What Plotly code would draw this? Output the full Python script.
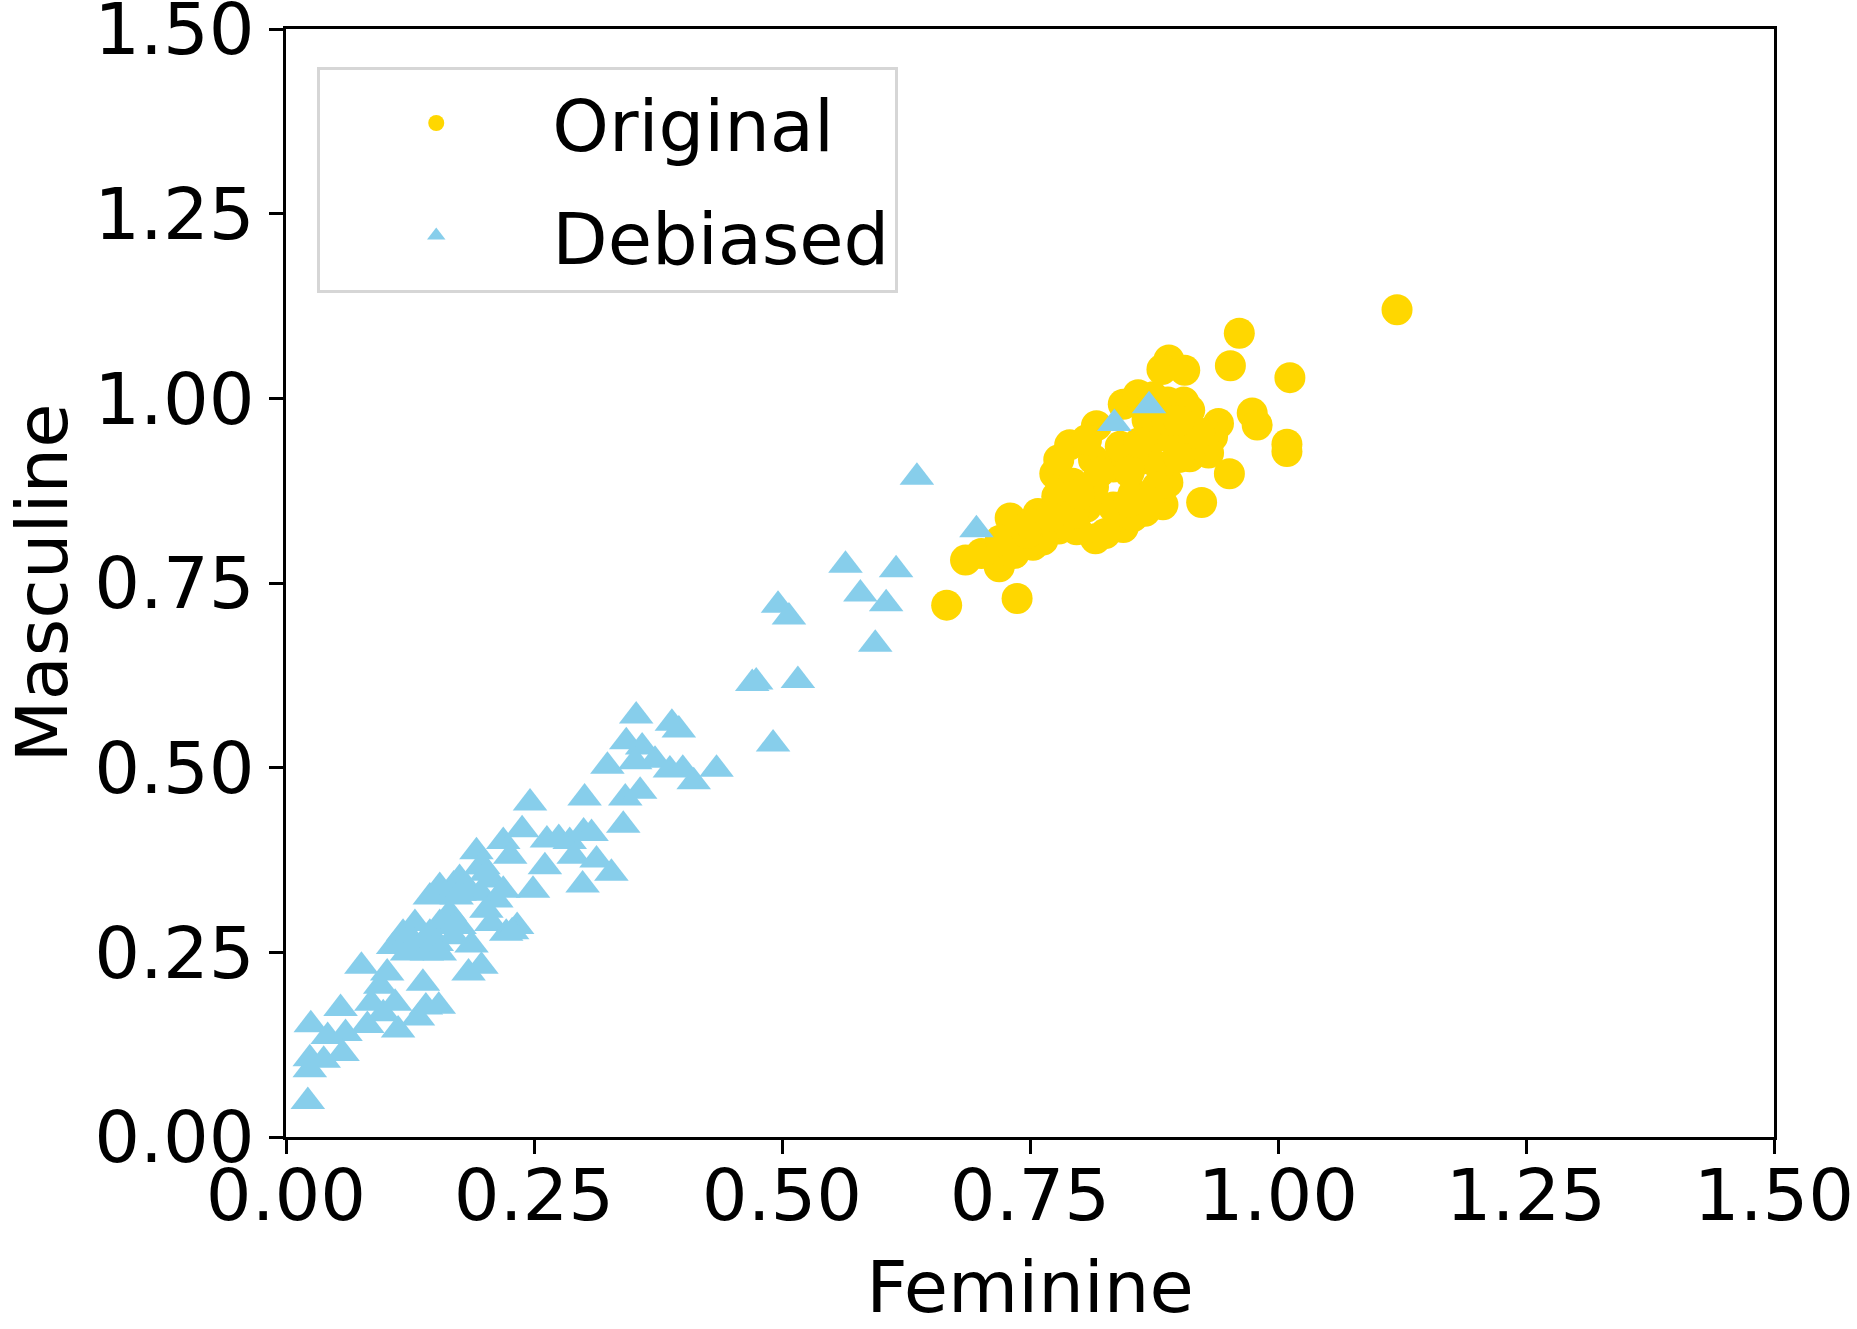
import plotly.graph_objects as go

# Original embeddings (feminine vs masculine score)
orig_x = [1.120, 0.961, 0.890, 0.883, 0.906, 0.952, 1.012, 0.974, 0.979, 1.009, 1.009, 0.940,
          0.934, 0.930, 0.951, 0.923, 0.911, 0.889, 0.884, 0.866, 0.844, 0.816, 0.797, 0.779,
          0.753, 0.737, 0.666, 0.685, 0.719, 0.701, 0.730, 0.734, 0.758, 0.775, 0.779, 0.790,
          0.817, 0.844, 0.859, 0.874, 0.889, 0.905, 0.911, 0.861, 0.881, 0.834, 0.814, 0.793,
          0.834, 0.854, 0.873, 0.894, 0.807, 0.777, 0.826, 0.854, 0.814, 0.841, 0.868, 0.888,
          0.763, 0.720, 0.747, 0.794, 0.921, 0.878, 0.807, 0.750, 0.770, 0.800, 0.820, 0.850,
          0.860, 0.900, 0.870, 0.900, 0.850]
orig_y = [1.120, 1.088, 1.052, 1.039, 1.038, 1.044, 1.028, 0.980, 0.964, 0.938, 0.928, 0.966,
          0.948, 0.926, 0.898, 0.859, 0.921, 0.886, 0.856, 0.847, 0.825, 0.810, 0.822, 0.823,
          0.801, 0.729, 0.720, 0.781, 0.772, 0.790, 0.838, 0.790, 0.844, 0.898, 0.917, 0.937,
          0.963, 0.992, 1.005, 1.002, 0.995, 0.995, 0.984, 0.917, 0.907, 0.907, 0.917, 0.885,
          0.853, 0.871, 0.944, 0.944, 0.853, 0.867, 0.817, 0.840, 0.880, 0.935, 0.971, 0.971,
          0.808, 0.808, 0.817, 0.844, 0.953, 0.880, 0.944, 0.830, 0.840, 0.870, 0.900, 0.900,
          0.940, 0.920, 0.860, 0.970, 0.860]

# Debiased embeddings
deb_x = [0.022, 0.024, 0.024, 0.025, 0.042, 0.038, 0.055, 0.060, 0.057, 0.076, 0.082, 0.086,
         0.095, 0.102, 0.098, 0.113, 0.110, 0.108, 0.118, 0.130, 0.138, 0.133, 0.154, 0.141,
         0.157, 0.169, 0.175, 0.187, 0.184, 0.197, 0.192, 0.199, 0.207, 0.222, 0.233, 0.219,
         0.226, 0.238, 0.246, 0.249, 0.263, 0.261, 0.275, 0.286, 0.290, 0.300, 0.308, 0.313,
         0.299, 0.328, 0.301, 0.324, 0.340, 0.342, 0.357, 0.343, 0.353, 0.359, 0.372, 0.389,
         0.396, 0.387, 0.400, 0.411, 0.434, 0.112, 0.125, 0.135, 0.145, 0.155, 0.165, 0.152,
         0.142, 0.172, 0.182, 0.196, 0.206, 0.196, 0.212, 0.202, 0.175, 0.169, 0.145, 0.155,
         0.122, 0.352, 0.636, 0.696, 0.564, 0.615, 0.579, 0.605, 0.594, 0.496, 0.507, 0.470,
         0.474, 0.516, 0.491, 0.835, 0.870, 0.202, 0.219, 0.175, 0.169, 0.155, 0.228]
deb_y = [0.048, 0.091, 0.106, 0.152, 0.136, 0.104, 0.174, 0.140, 0.113, 0.231, 0.151, 0.181,
         0.204, 0.222, 0.167, 0.145, 0.181, 0.258, 0.276, 0.289, 0.208, 0.161, 0.177, 0.176,
         0.328, 0.341, 0.350, 0.260, 0.222, 0.231, 0.386, 0.366, 0.289, 0.276, 0.285, 0.400,
         0.380, 0.416, 0.452, 0.334, 0.402, 0.366, 0.404, 0.400, 0.380, 0.413, 0.411, 0.375,
         0.341, 0.357, 0.459, 0.502, 0.422, 0.459, 0.468, 0.535, 0.570, 0.528, 0.510, 0.560,
         0.551, 0.497, 0.498, 0.481, 0.498, 0.262, 0.271, 0.258, 0.276, 0.289, 0.303, 0.262,
         0.249, 0.325, 0.339, 0.366, 0.348, 0.330, 0.321, 0.307, 0.285, 0.271, 0.325, 0.339,
         0.249, 0.508, 0.893, 0.822, 0.774, 0.768, 0.735, 0.722, 0.667, 0.720, 0.704, 0.614,
         0.616, 0.618, 0.532, 0.966, 0.990, 0.357, 0.334, 0.330, 0.285, 0.249, 0.278]

font = "DejaVu Sans"

fig = go.Figure()
fig.add_trace(go.Scatter(
    x=orig_x, y=orig_y, mode="markers", name="Original", legendgroup="orig",
    marker=dict(color="#FFD700", size=31, symbol="circle", line=dict(width=0)),
))
fig.add_trace(go.Scatter(
    x=deb_x, y=deb_y, mode="markers", name="Debiased", legendgroup="deb",
    marker=dict(color="#87CEEB", size=30, symbol="triangle-up", line=dict(width=0)),
))

axis_style = dict(
    range=[0, 1.5], dtick=0.25, tick0=0, tickformat=".2f",
    showgrid=False, zeroline=False,
    showline=True, linecolor="black", linewidth=3, mirror=True,
    ticks="outside", ticklen=14, tickwidth=3, tickcolor="black",
    tickfont=dict(family=font, size=72, color="black"),
    ticklabeloverflow="allow",
    automargin=False,
)

fig.update_layout(
    width=1857, height=1329,
    margin=dict(l=286, r=83, t=29, b=192),
    plot_bgcolor="white", paper_bgcolor="white",
    font=dict(family=font, color="black"),
    xaxis=dict(axis_style, ticklabelstandoff=-20,
               title=dict(text="Feminine", font=dict(family=font, size=72), standoff=38)),
    yaxis=dict(axis_style,
               title=dict(text="Masculine", font=dict(family=font, size=72), standoff=32)),
    legend=dict(
        x=0.021, y=0.966, xanchor="left", yanchor="top",
        bgcolor="white", bordercolor="#d6d6d6", borderwidth=3,
        font=dict(family=font, size=72, color="black"),
        itemwidth=222, traceorder="grouped", tracegroupgap=16,
    ),
)

# drop the default page margin so the figure sits at the window's corner
fig.write_html("out.html", config={"displayModeBar": False},
               post_script="document.body.style.margin='0';")
